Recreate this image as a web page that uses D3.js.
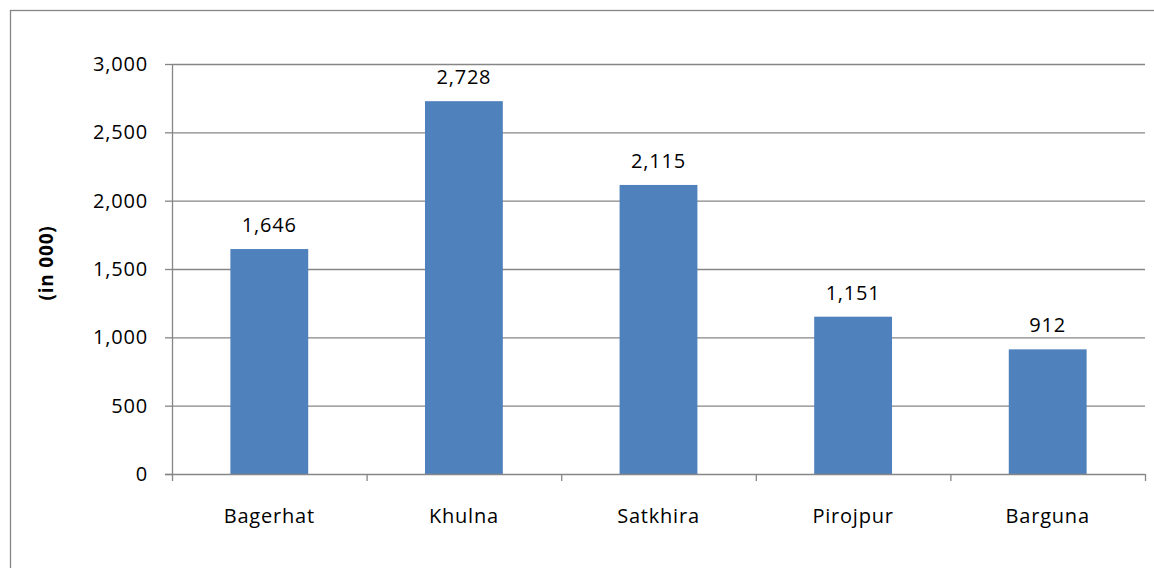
<!DOCTYPE html>
<meta charset="utf-8">
<script src="https://d3js.org/d3.v7.min.js"></script>
<style>
  body { margin: 0; background: #fff; }
  text { font-family: "Open Sans", sans-serif; fill: #000; letter-spacing: 0.8px; }
</style>
<div id="chart"></div>
<script>

// data
var districts = ["Bagerhat", "Khulna", "Satkhira", "Pirojpur", "Barguna"];
var population = [1646, 2728, 2115, 1151, 912];
var yTicks = [0, 500, 1000, 1500, 2000, 2500, 3000];

var W = 1154, H = 568;
var margin = {top: 64, right: 9, bottom: 94, left: 172},
  width = W - margin.left - margin.right,
  height = H - margin.top - margin.bottom;

var root = d3.select("#chart").append("svg")
  .attr("width", W)
  .attr("height", H);

// outer chart frame
root.append("rect")
  .attr("x", 10.5).attr("y", 10.5)
  .attr("width", W).attr("height", H)
  .attr("fill", "none")
  .attr("stroke", "#868686")
  .attr("stroke-width", 1.3);

var svg = root.append("g")
  .attr("transform", "translate(" + margin.left + "," + margin.top + ")");

var x = d3.scaleBand()
  .domain(districts)
  .range([0, width])
  .paddingInner(0.6)
  .paddingOuter(0.3);

var y = d3.scaleLinear()
  .domain([0, 3000])
  .range([height, 0]);

var fmt = d3.format(",");

// gridlines
svg.append("g")
  .selectAll("line")
  .data(yTicks.filter(function(d) { return d > 0; }))
  .enter().append("line")
    .attr("x1", 0).attr("x2", width)
    .attr("y1", function(d) { return y(d) + 0.5; })
    .attr("y2", function(d) { return y(d) + 0.5; })
    .attr("stroke", "#868686")
    .attr("stroke-width", 1.3);

// bars
svg.selectAll(".bar")
  .data(population)
  .enter().append("rect")
    .attr("class", "bar")
    .attr("x", function(d, i) { return x(districts[i]); })
    .attr("y", function(d) { return y(d); })
    .attr("width", x.bandwidth())
    .attr("height", function(d) { return height - y(d); })
    .attr("fill", "#4F81BD");

// value labels
svg.selectAll(".val")
  .data(population)
  .enter().append("text")
    .attr("class", "val")
    .attr("x", function(d, i) { return x(districts[i]) + x.bandwidth() / 2; })
    .attr("y", function(d) { return y(d) - 17; })
    .attr("text-anchor", "middle")
    .style("font-size", "20px")
    .text(function(d) { return fmt(d); });

// y axis
var yAxis = svg.append("g")
  .call(d3.axisLeft(y).tickValues(yTicks).tickFormat(fmt).tickSize(7).tickPadding(17));
yAxis.selectAll("text").style("font-size", "20px").attr("fill", "#000");
yAxis.selectAll("line").attr("stroke", "#868686").attr("stroke-width", 1.3);
yAxis.select(".domain").attr("stroke", "#868686").attr("stroke-width", 1.3)
  .attr("d", "M0.5,0V" + height);

// x axis with boundary ticks between categories
var xAxis = svg.append("g")
  .attr("transform", "translate(0," + height + ")");
xAxis.append("line")
  .attr("x1", -7).attr("x2", width)
  .attr("y1", 0.5).attr("y2", 0.5)
  .attr("stroke", "#868686")
  .attr("stroke-width", 1.3);
xAxis.selectAll(".bt")
  .data(d3.range(districts.length + 1))
  .enter().append("line")
    .attr("x1", function(i) { return i * width / districts.length + 0.5; })
    .attr("x2", function(i) { return i * width / districts.length + 0.5; })
    .attr("y1", 0).attr("y2", 7)
    .attr("stroke", "#868686")
    .attr("stroke-width", 1.3);
xAxis.selectAll(".cat")
  .data(districts)
  .enter().append("text")
    .attr("x", function(d) { return x(d) + x.bandwidth() / 2; })
    .attr("y", 49)
    .attr("text-anchor", "middle")
    .style("font-size", "20px")
    .text(function(d) { return d; });

// y axis title
svg.append("text")
  .attr("transform", "rotate(-90)")
  .attr("x", -(height / 2) + 6)
  .attr("y", -119)
  .attr("text-anchor", "middle")
  .style("font-size", "19px")
  .style("font-weight", "bold")
  .text("(in 000)");

</script>
